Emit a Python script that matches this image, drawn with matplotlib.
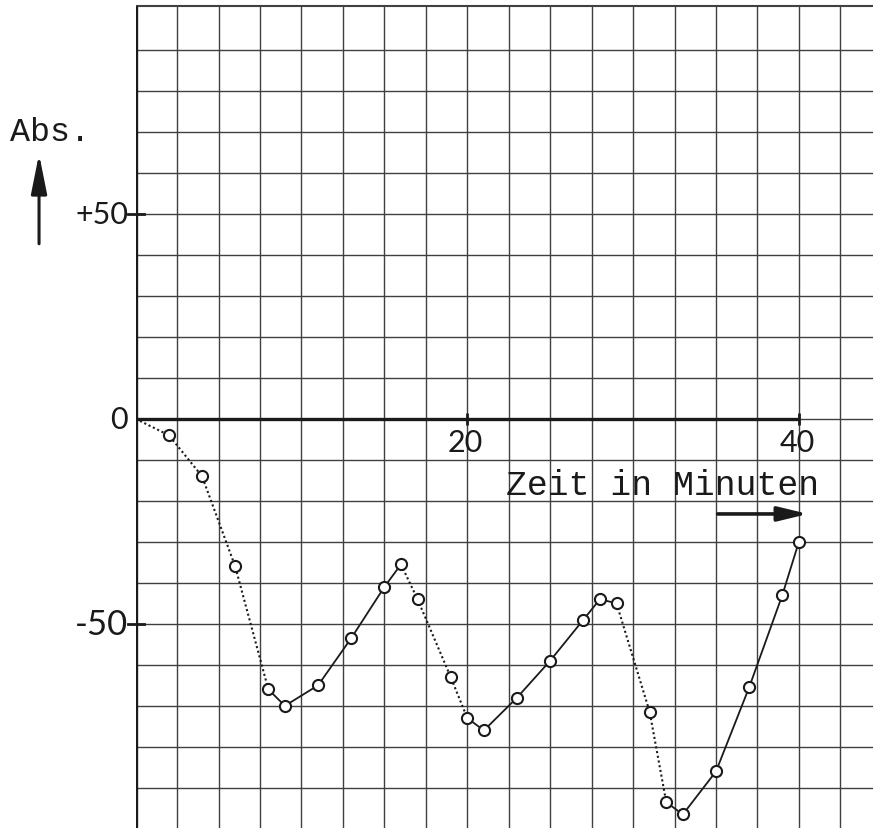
import matplotlib
matplotlib.use("Agg")
import matplotlib.pyplot as plt
import numpy as np

# Messwerte: Zeit (min) und Abs.-Wert
minutes = [0, 2, 4, 6, 8, 9, 11, 13, 15, 16, 17, 19, 20, 21, 23, 25, 27, 28, 29,
           31, 32, 33, 35, 37, 39, 40]
absorption = [0, -4, -14, -36, -66, -70, -65, -53.5, -41, -35.5, -44, -63, -73, -76,
              -68, -59, -49, -44, -45, -71.5, -93.5, -96.5, -86, -65.5, -43, -30]

y_ticks = [50, 0, -50]
y_tick_labels = ['+50', '0', '-50']
x_ticks = [20, 40]
x_tick_labels = ['20', '40']

# Abschnitte der Kurve: (von, bis, Linienart)
runs = [(0, 4, 'dot'), (4, 9, 'solid'), (9, 12, 'dot'),
        (12, 18, 'solid'), (18, 20, 'dot'), (20, 25, 'solid')]

fig = plt.figure(figsize=(8.73, 8.29), dpi=100)
ax = fig.add_axes([135.7 / 873, 0, 1 - 135.7 / 873, 1])
ax.set_xlim(0, 44.47)
ax.set_ylim(-99.8, 102.4)
ax.axis('off')

ink = '#1a1a1a'
grid = '#404040'

# Millimeterpapier
ax.vlines(np.arange(2.5, 44, 2.5), -100, 100.7, color=grid, lw=1.0, zorder=1)
ax.hlines(np.arange(-100, 100, 10), 0, 44.47, color=grid, lw=1.0, zorder=1)
ax.hlines(100.7, 0, 44.47, color=grid, lw=1.5, zorder=1)

# Achsen
ax.vlines(0, -100, 100.7, color=ink, lw=2.4, zorder=2)
ax.hlines(0, 0, 40, color=ink, lw=2.4, zorder=2)
for t in x_ticks:
    ax.vlines(t, -1.5, 1.5, color=ink, lw=2, zorder=2)
for t in (50, -50):
    ax.plot([-0.45, 0.5], [t, t], color=ink, lw=2, clip_on=False, zorder=2)

tick_font = dict(family=['Lato', 'DejaVu Sans'], fontweight='normal', color=ink)
for t, lab in zip(y_ticks, y_tick_labels):
    size = 25 if t < 0 else 22
    ax.text(-0.45, t, lab, ha='right', va='center', fontsize=size,
            clip_on=False, **tick_font)
for t, lab in zip(x_ticks, x_tick_labels):
    ax.text(t - 0.1, -2.3, lab, ha='center', va='top', fontsize=22, **tick_font)

# Kurve
x = np.array(minutes)
y = np.array(absorption)
for a, b, style in runs:
    if style == 'dot':
        ax.plot(x[a:b + 1], y[a:b + 1], color=ink, lw=1.5,
                linestyle=(0, (1, 1.3)), zorder=3)
    else:
        ax.plot(x[a:b + 1], y[a:b + 1], color=ink, lw=1.3, zorder=3)
ax.plot(x[1:], y[1:], linestyle='none', marker='o', ms=8, mfc='white',
        mec=ink, mew=1.5, zorder=4)

# Beschriftung
mono = dict(family=['Liberation Mono', 'DejaVu Sans Mono'], color=ink)
ax.text(31.77, -16.1, 'Zeit in Minuten', ha='center', va='center',
        fontsize=25, **mono)
ax.text(-5.14, 70.2, 'Abs.', ha='center', va='center', fontsize=24,
        clip_on=False, **mono)

ax.annotate('', xy=(-5.83, 64.6), xytext=(-5.83, 42.7), annotation_clip=False,
            arrowprops=dict(arrowstyle='-|>,head_length=1.6,head_width=0.32',
                            mutation_scale=15, lw=2.2, color=ink,
                            shrinkA=0, shrinkB=0))
ax.annotate('', xy=(40.55, -23.2), xytext=(35.1, -23.2),
            arrowprops=dict(arrowstyle='-|>,head_length=1.2,head_width=0.29',
                            mutation_scale=15, lw=2.6, color=ink,
                            shrinkA=0, shrinkB=0))

fig.savefig('out.png', dpi=100, facecolor='white')
